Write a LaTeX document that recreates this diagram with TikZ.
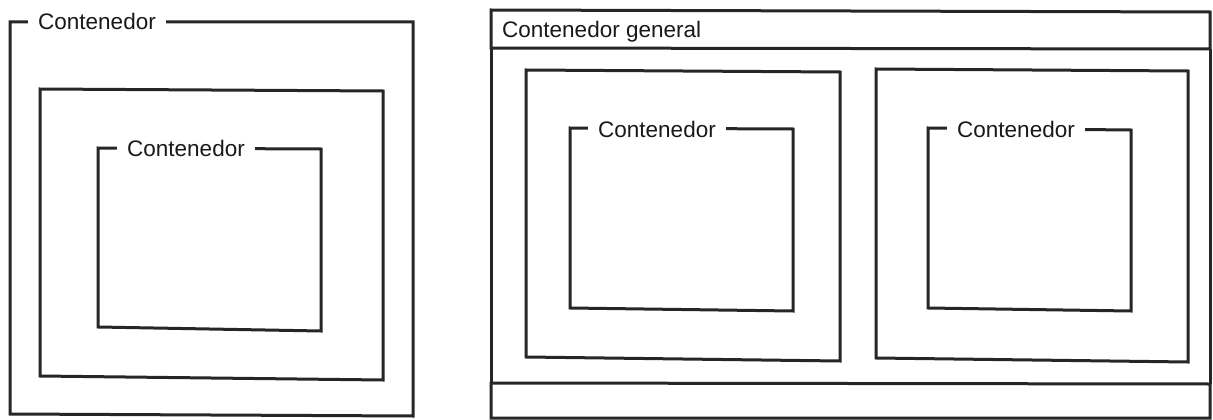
\documentclass[tikz,border=0pt]{standalone}
\usepackage{fontspec}
\setmainfont{Liberation Sans}
\tikzset{
  frame/.style={draw=black!85, line width=3pt, line join=miter},
  lbl/.style={fill=white, inner xsep=10.5pt, inner ysep=3pt, anchor=base west,
              font=\fontsize{22.5}{26}\selectfont, text=black!90},
  hdr/.style={inner sep=0pt, anchor=base west, font=\fontsize{22.5}{26}\selectfont, text=black!90}
}
\begin{document}
\begin{tikzpicture}[x=1pt,y=-1pt]
\useasboundingbox (0,0) rectangle (1213,420);
% ---------- left group ----------
\coordinate (o1) at (10,22);  \coordinate (o2) at (413,22);
\coordinate (o3) at (413,416); \coordinate (o4) at (10,414);
\draw[frame] (o1) -- (o2) -- (o3) -- (o4) -- cycle;
\coordinate (m1) at (40,89);  \coordinate (m2) at (383,91);
\coordinate (m3) at (383,380); \coordinate (m4) at (40,376);
\draw[frame] (m1) -- (m2) -- (m3) -- (m4) -- cycle;
\coordinate (i1) at (98,148);  \coordinate (i2) at (321,149);
\coordinate (i3) at (321,331); \coordinate (i4) at (98,327);
\draw[frame] (i1) -- (i2) -- (i3) -- (i4) -- cycle;
\node[lbl] (lo) at (27.5,29.5) {Contenedor};
\node[lbl] (li) at (116.5,156.5) {Contenedor};
% ---------- right group ----------
\coordinate (h1) at (491,10);  \coordinate (h2) at (1210,12);
\coordinate (h3) at (1210,49); \coordinate (h4) at (491,48);
\draw[frame] (h1) -- (h2) -- (h3) -- (h4) -- cycle;
\coordinate (f1) at (491,383); \coordinate (f2) at (1210,384);
\coordinate (f3) at (1210,418); \coordinate (f4) at (491,418);
\draw[frame] (h4) -- (f1);
\draw[frame] (h3) -- (f2);
\draw[frame] (f1) -- (f2) -- (f3) -- (f4) -- cycle;
\node[hdr] (hd) at (502,37.5) {Contenedor general};
% box A
\coordinate (a1) at (526,70);  \coordinate (a2) at (840,72);
\coordinate (a3) at (840,361); \coordinate (a4) at (526,357);
\draw[frame] (a1) -- (a2) -- (a3) -- (a4) -- cycle;
\coordinate (ai1) at (570,128); \coordinate (ai2) at (793,129);
\coordinate (ai3) at (793,311); \coordinate (ai4) at (570,308);
\draw[frame] (ai1) -- (ai2) -- (ai3) -- (ai4) -- cycle;
\node[lbl] (la) at (587.5,137.5) {Contenedor};
% box B
\coordinate (b1) at (876,69);  \coordinate (b2) at (1188,71);
\coordinate (b3) at (1188,362); \coordinate (b4) at (876,358);
\draw[frame] (b1) -- (b2) -- (b3) -- (b4) -- cycle;
\coordinate (bi1) at (928,128); \coordinate (bi2) at (1131,130);
\coordinate (bi3) at (1131,311); \coordinate (bi4) at (928,308);
\draw[frame] (bi1) -- (bi2) -- (bi3) -- (bi4) -- cycle;
\node[lbl] (lb) at (946.5,137.5) {Contenedor};
\end{tikzpicture}
\end{document}
